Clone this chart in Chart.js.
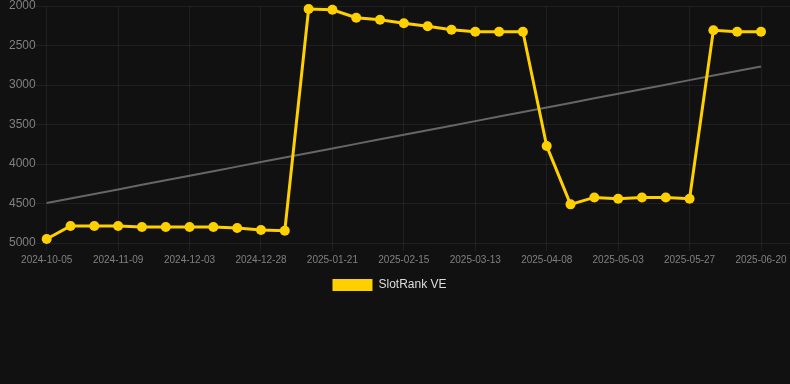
<!DOCTYPE html>
<html>
<head>
<meta charset="utf-8">
<script src="https://cdn.jsdelivr.net/npm/chart.js@4"></script>
<style>
    html, body { margin: 0; padding: 0; background: #111111; }
    #wrap { width: 790px; height: 301px; position: relative; }
</style>
</head>
<body>
<div id="wrap"><canvas id="rankChart"></canvas></div>
<script>
// 数据
const dates = [
    '2024-10-05', '2024-10-17', '2024-10-29', '2024-11-09', '2024-11-17', '2024-11-25',
    '2024-12-03', '2024-12-11', '2024-12-19', '2024-12-28', '2025-01-05', '2025-01-13',
    '2025-01-21', '2025-01-29', '2025-02-06', '2025-02-15', '2025-02-23', '2025-03-04',
    '2025-03-13', '2025-03-21', '2025-03-30', '2025-04-08', '2025-04-16', '2025-04-24',
    '2025-05-03', '2025-05-11', '2025-05-19', '2025-05-27', '2025-06-04', '2025-06-12',
    '2025-06-20'
];
const rankVE = [
    4950, 4785, 4785, 4785, 4797, 4797, 4797, 4797, 4810, 4835, 4845,
    2038, 2047, 2148, 2173, 2219, 2257, 2300, 2325, 2325, 2325,
    3772, 4511, 4423, 4440, 4423, 4423, 4440,
    2308, 2325, 2325
];
const yTicks = [2000, 2500, 3000, 3500, 4000, 4500, 5000];

// 线性趋势线
function trendOf(values) {
    const n = values.length;
    let sx = 0, sy = 0, sxy = 0, sxx = 0;
    values.forEach((v, i) => { sx += i; sy += v; sxy += i * v; sxx += i * i; });
    const slope = (n * sxy - sx * sy) / (n * sxx - sx * sx);
    const icpt = (sy - slope * sx) / n;
    return values.map((v, i) => icpt + slope * i);
}

const gridColor = 'rgba(255, 255, 255, 0.06)';
const tickColor = '#808080';

new Chart(document.getElementById('rankChart').getContext('2d'), {
    type: 'line',
    data: {
        labels: dates,
        datasets: [
            {
                label: 'SlotRank VE',
                data: rankVE,
                borderColor: '#FFD000',
                backgroundColor: '#FFD000',
                borderWidth: 3,
                pointRadius: 5,
                pointBackgroundColor: '#FFD000',
                pointBorderWidth: 0,
                tension: 0,
                clip: false,
                order: 1
            },
            {
                label: 'trend',
                data: trendOf(rankVE),
                borderColor: '#666666',
                borderWidth: 2,
                pointRadius: 0,
                fill: false,
                order: 2
            }
        ]
    },
    options: {
        responsive: true,
        maintainAspectRatio: false,
        animation: false,
        layout: { padding: { left: 9, right: 20, top: 0, bottom: 0 } },
        plugins: {
            legend: {
                position: 'bottom',
                labels: {
                    color: '#dddddd',
                    font: { size: 12 },
                    boxWidth: 40,
                    generateLabels: chart => [{
                        text: chart.data.datasets[0].label,
                        fillStyle: '#FFD000',
                        strokeStyle: '#FFD000',
                        lineWidth: 0,
                        fontColor: '#dddddd',
                        datasetIndex: 0
                    }]
                }
            },
            tooltip: { enabled: false }
        },
        scales: {
            x: {
                grid: { color: gridColor, tickLength: 8 },
                border: { display: false },
                ticks: {
                    color: tickColor,
                    font: { size: 10 },
                    maxRotation: 0,
                    autoSkip: true,
                    maxTicksLimit: 11
                }
            },
            y: {
                reverse: true,
                min: 2000,
                max: 5000,
                afterBuildTicks: axis => { axis.ticks = yTicks.map(v => ({ value: v })); },
                grid: { color: gridColor, tickLength: 11 },
                border: { display: false },
                ticks: {
                    color: tickColor,
                    padding: 0,
                    font: { size: 12, lineHeight: 1 },
                    callback: v => String(v)
                }
            },
            y1: {
                position: 'right',
                reverse: true,
                min: 2000,
                max: 5000,
                afterBuildTicks: axis => { axis.ticks = yTicks.map(v => ({ value: v })); },
                afterFit: axis => { axis.width = 9; },
                grid: { color: gridColor, tickLength: 29, drawOnChartArea: false },
                border: { display: false },
                ticks: { display: false }
            }
        }
    }
});
</script>
</body>
</html>
